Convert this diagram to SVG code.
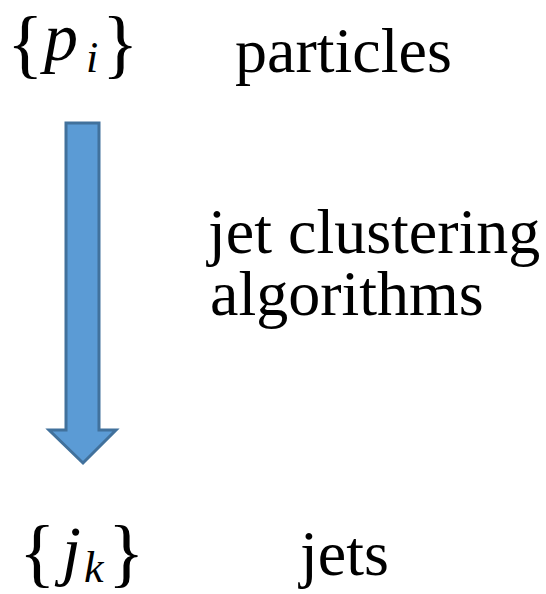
<svg xmlns="http://www.w3.org/2000/svg" width="546" height="594" viewBox="0 0 546 594">
<style>
.t{font-family:'Liberation Serif','Times New Roman',serif;font-size:64px;fill:#000}
.m{font-family:'Liberation Serif','Times New Roman',serif;fill:#000}
.b{font-size:76px}
.it{font-style:italic}
</style>
<rect width="546" height="594" fill="#fff"/>
<g id="particles-set">
<text class="m b" x="7" y="69">{</text>
<text class="m it" x="44" y="60" font-size="68">p</text>
<text class="m it" x="86" y="72" font-size="44">i</text>
<text class="m b" x="102" y="69">}</text>
</g>
<g id="particles-label"><text class="t" x="235" y="72">particles</text></g>
<g id="connectors">
<path d="M66,123 H99 V430 H116 L83,463 L49,430 H66 Z" fill="#5b9bd5" stroke="#41719c" stroke-width="3"/>
</g>
<g id="algo-label">
<text class="t" x="208" y="253">jet clustering</text>
<text class="t" x="210" y="315">algorithms</text>
</g>
<g id="jets-set">
<text class="m b" x="19" y="578">{</text>
<text class="m it" x="62" y="573" font-size="68">j</text>
<text class="m it" x="84" y="582" font-size="44">k</text>
<text class="m b" x="108" y="578">}</text>
</g>
<g id="jets-label"><text class="t" x="300" y="575">jets</text></g>
</svg>
